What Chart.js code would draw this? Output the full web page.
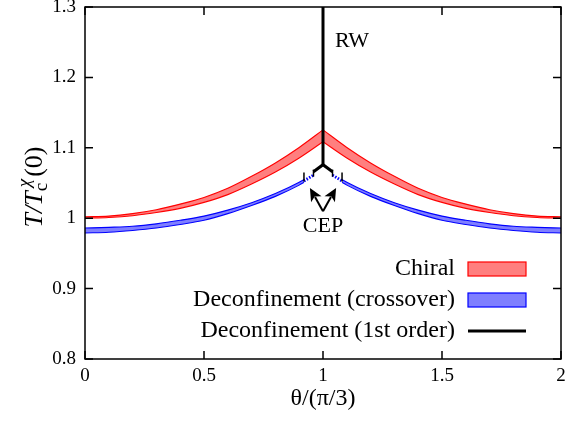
<!DOCTYPE html>
<html>
<head>
<meta charset="utf-8">
<script src="https://cdn.jsdelivr.net/npm/chart.js@4.4.0/dist/chart.umd.min.js"></script>
<style>
  html, body { margin: 0; padding: 0; background: #fff; }
  canvas { display: block; }
</style>
</head>
<body>
<canvas id="main_graphic" width="585" height="424"></canvas>
<script>
// theta/(pi/3) sample points, left and right of the RW point
const thetaLeft  = [0, 0.1, 0.2, 0.3, 0.4, 0.5, 0.6, 0.7, 0.8, 0.9, 1.0]
const thetaRight = [1.0, 1.1, 1.2, 1.3, 1.4, 1.5, 1.6, 1.7, 1.8, 1.9, 2.0]

// chiral band (lower / upper edge), T/Tc(0)
const chiralLowLeft  = [1.000, 1.001, 1.0035, 1.008, 1.014, 1.0225, 1.0335, 1.0485, 1.0655, 1.0855, 1.1085]
const chiralUpLeft   = [1.002, 1.003, 1.0065, 1.012, 1.020, 1.0295, 1.0425, 1.0595, 1.0785, 1.1005, 1.1255]
const chiralLowRight = [1.1085, 1.0855, 1.0655, 1.0485, 1.0335, 1.0225, 1.014, 1.008, 1.0035, 1.001, 1.000]
const chiralUpRight  = [1.1255, 1.1005, 1.0785, 1.0595, 1.0425, 1.0295, 1.020, 1.012, 1.0065, 1.003, 1.002]

// deconfinement crossover band, up to the CEP
const thetaCrossLeft  = [0, 0.1, 0.2, 0.3, 0.4, 0.5, 0.6, 0.7, 0.8, 0.9, 0.92]
const thetaCrossRight = [1.08, 1.1, 1.2, 1.3, 1.4, 1.5, 1.6, 1.7, 1.8, 1.9, 2.0]
const crossLowLeft  = [0.979, 0.980, 0.9825, 0.986, 0.991, 0.997, 1.0065, 1.018, 1.031, 1.047, 1.051]
const crossUpLeft   = [0.986, 0.987, 0.9885, 0.992, 0.997, 1.003, 1.0115, 1.022, 1.035, 1.051, 1.055]
const crossLowRight = [1.051, 1.047, 1.031, 1.018, 1.0065, 0.997, 0.991, 0.986, 0.9825, 0.980, 0.979]
const crossUpRight  = [1.055, 1.051, 1.035, 1.022, 1.0115, 1.003, 0.997, 0.992, 0.9885, 0.987, 0.986]

// CEP uncertainty (dotted part) and error bars
const thetaDotLeft = [0.92, 0.96]
const dotLeft      = [1.053, 1.061]
const thetaDotRight = [1.04, 1.08]
const dotRight      = [1.061, 1.053]
const errTheta = [0.92, 0.96, 1.04, 1.08]
const errLow   = [1.052, 1.059, 1.059, 1.052]
const errHigh  = [1.065, 1.069, 1.069, 1.065]

// 1st order deconfinement line + RW line
const thetaFirst = [0.96, 1.0, 1.04]
const tFirst     = [1.066, 1.076, 1.066]
const thetaRW = [1.0, 1.0]
const tRW     = [1.076, 1.3]

// annotations
const arrowFrom = [1.0, 1.010]
const arrowTo   = [[0.945, 1.043], [1.055, 1.043]]
const cepLabel = ['CEP', 1.0, 0.988]
const rwLabel  = ['RW', 1.05, 1.251]

const xTickLabels = ['0', '0.5', '1', '1.5', '2']
const yTickLabels = ['0.8', '0.9', '1', '1.1', '1.2', '1.3']
const legendLabels = ['Chiral', 'Deconfinement (crossover)', 'Deconfinement (1st order)']

const FONT = "'Liberation Serif', 'DejaVu Serif', serif"
const RED = '#ff0000', RED_FILL = 'rgba(255,0,0,0.5)'
const BLUE = '#0000ff', BLUE_FILL = 'rgba(0,0,255,0.5)'

const pts = (xs, ys) => xs.map((x, i) => ({x: x, y: ys[i]}))

const line = (xs, ys, color, width, extra) => Object.assign({
  data: pts(xs, ys), borderColor: color, borderWidth: width,
  pointRadius: 0, fill: false, tension: 0
}, extra || {})

const band = (xs, lo, hi, color, fillColor) => [
  line(xs, lo, color, 1.1, {cubicInterpolationMode: 'monotone'}),
  line(xs, hi, color, 1.1, {cubicInterpolationMode: 'monotone', fill: '-1', backgroundColor: fillColor})
]

var datasets = []
datasets.push(line(thetaRW, tRW, '#000', 3))
datasets.push(line(thetaFirst, tFirst, '#000', 3))
for (let i = 0; i < errTheta.length; i++) {
  datasets.push(line([errTheta[i], errTheta[i]], [errLow[i], errHigh[i]], '#000', 1.5))
}
datasets.push(line(thetaDotLeft, dotLeft, BLUE, 3, {borderDash: [1.5, 1.5]}))
datasets.push(line(thetaDotRight, dotRight, BLUE, 3, {borderDash: [1.5, 1.5]}))
datasets = datasets.concat(band(thetaLeft, chiralLowLeft, chiralUpLeft, RED, RED_FILL))
datasets = datasets.concat(band(thetaRight, chiralLowRight, chiralUpRight, RED, RED_FILL))
datasets = datasets.concat(band(thetaCrossLeft, crossLowLeft, crossUpLeft, BLUE, BLUE_FILL))
datasets = datasets.concat(band(thetaCrossRight, crossLowRight, crossUpRight, BLUE, BLUE_FILL))

const drawArrow = (ctx, x0, y0, x1, y1) => {
  const ang = Math.atan2(y1 - y0, x1 - x0)
  const len = 13, half = 6
  const c = Math.cos(ang), s = Math.sin(ang)
  ctx.beginPath()
  ctx.moveTo(x0, y0)
  ctx.lineTo(x1 - c * len * 0.8, y1 - s * len * 0.8)
  ctx.stroke()
  ctx.beginPath()
  ctx.moveTo(x1, y1)
  ctx.lineTo(x1 - c * len - s * half, y1 - s * len + c * half)
  ctx.lineTo(x1 - c * len * 0.75, y1 - s * len * 0.75)
  ctx.lineTo(x1 - c * len + s * half, y1 - s * len - c * half)
  ctx.closePath()
  ctx.fill()
}

const decorations = {
  id: 'decorations',
  afterDatasetsDraw(chart) {
    const ctx = chart.ctx
    const a = chart.chartArea
    const xs = chart.scales.x, ys = chart.scales.y
    ctx.save()
    // box + mirrored inward ticks
    ctx.strokeStyle = '#000'
    ctx.lineWidth = 1.5
    ctx.strokeRect(a.left, a.top, a.right - a.left, a.bottom - a.top)
    const tl = 8
    ctx.beginPath()
    xs.ticks.forEach(t => {
      const px = xs.getPixelForValue(t.value)
      ctx.moveTo(px, a.bottom); ctx.lineTo(px, a.bottom - tl)
      ctx.moveTo(px, a.top); ctx.lineTo(px, a.top + tl)
    })
    ys.ticks.forEach(t => {
      const py = ys.getPixelForValue(t.value)
      ctx.moveTo(a.left, py); ctx.lineTo(a.left + tl, py)
      ctx.moveTo(a.right, py); ctx.lineTo(a.right - tl, py)
    })
    ctx.stroke()

    // tick labels
    ctx.fillStyle = '#000'
    ctx.font = '19px ' + FONT
    ctx.textBaseline = 'middle'
    ctx.textAlign = 'center'
    xs.ticks.forEach((t, i) => ctx.fillText(xTickLabels[i], xs.getPixelForValue(t.value), a.bottom + 17))
    ctx.textAlign = 'right'
    ys.ticks.forEach((t, i) => ctx.fillText(yTickLabels[i], a.left - 9, ys.getPixelForValue(t.value)))

    // arrows to the CEP
    ctx.lineWidth = 2
    const fx = xs.getPixelForValue(arrowFrom[0]), fy = ys.getPixelForValue(arrowFrom[1])
    arrowTo.forEach(p => drawArrow(ctx, fx, fy, xs.getPixelForValue(p[0]), ys.getPixelForValue(p[1])))

    // labels
    ctx.font = '22px ' + FONT
    ctx.textAlign = 'center'
    ctx.fillText(cepLabel[0], xs.getPixelForValue(cepLabel[1]), ys.getPixelForValue(cepLabel[2]))
    ctx.textAlign = 'left'
    ctx.fillText(rwLabel[0], xs.getPixelForValue(rwLabel[1]), ys.getPixelForValue(rwLabel[2]))

    // legend
    const rowY = [a.bottom - 90, a.bottom - 59, a.bottom - 28]
    const sx0 = a.right - 93, sx1 = a.right - 35
    ctx.font = '24px ' + FONT
    ctx.textAlign = 'right'
    legendLabels.forEach((lab, i) => {
      ctx.fillStyle = '#000'
      ctx.fillText(lab, a.right - 106, rowY[i])
      if (i < 2) {
        ctx.fillStyle = i == 0 ? RED_FILL : BLUE_FILL
        ctx.strokeStyle = i == 0 ? RED : BLUE
        ctx.lineWidth = 1.2
        ctx.fillRect(sx0, rowY[i] - 7, sx1 - sx0, 14)
        ctx.strokeRect(sx0, rowY[i] - 7, sx1 - sx0, 14)
      } else {
        ctx.strokeStyle = '#000'
        ctx.lineWidth = 3
        ctx.beginPath()
        ctx.moveTo(sx0, rowY[i]); ctx.lineTo(sx1, rowY[i])
        ctx.stroke()
      }
    })

    // axis titles
    ctx.fillStyle = '#000'
    ctx.textAlign = 'center'
    ctx.textBaseline = 'alphabetic'
    ctx.font = '24px ' + FONT
    ctx.fillText('\u03b8/(\u03c0/3)', (a.left + a.right) / 2, 405)

    ctx.translate(42, 187)
    ctx.rotate(-Math.PI / 2)
    const big = '26px ' + FONT, bigIt = 'italic 26px ' + FONT
    const small = '19px ' + FONT, smallIt = 'italic 19px ' + FONT
    ctx.font = bigIt; const w1 = ctx.measureText('T/T').width
    ctx.font = small; const wc = ctx.measureText('c').width
    ctx.font = smallIt; const wchi = ctx.measureText('\u03c7').width
    ctx.font = big; const w3 = ctx.measureText('(0)').width
    const total = w1 + wc * 0.5 + wchi + w3 + 2
    let x = -total / 2
    ctx.textAlign = 'left'
    ctx.font = bigIt; ctx.fillText('T/T', x, 0); x += w1
    ctx.font = small; ctx.fillText('c', x, 5)
    ctx.font = smallIt; ctx.fillText('\u03c7', x + wc * 0.5, -12)
    x += wc * 0.5 + wchi + 2
    ctx.font = big; ctx.fillText('(0)', x, 0)
    ctx.restore()
  }
}

var config = {
  type: 'line',
  data: {datasets: datasets},
  options: {
    responsive: false,
    animation: false,
    layout: {padding: {top: 7, right: 24, left: 0, bottom: 0}},
    plugins: {legend: {display: false}, tooltip: {enabled: false}},
    scales: {
      x: {
        type: 'linear', min: 0, max: 2,
        grid: {display: false, drawTicks: false},
        border: {display: false},
        afterFit: s => { s.height = 65 },
        ticks: {stepSize: 0.5, display: false}
      },
      y: {
        type: 'linear', min: 0.8, max: 1.3,
        grid: {display: false, drawTicks: false},
        border: {display: false},
        afterFit: s => { s.width = 85 },
        ticks: {stepSize: 0.1, display: false}
      }
    }
  },
  plugins: [decorations]
}

var myChart = new Chart(document.getElementById('main_graphic'), config)
</script>
</body>
</html>
